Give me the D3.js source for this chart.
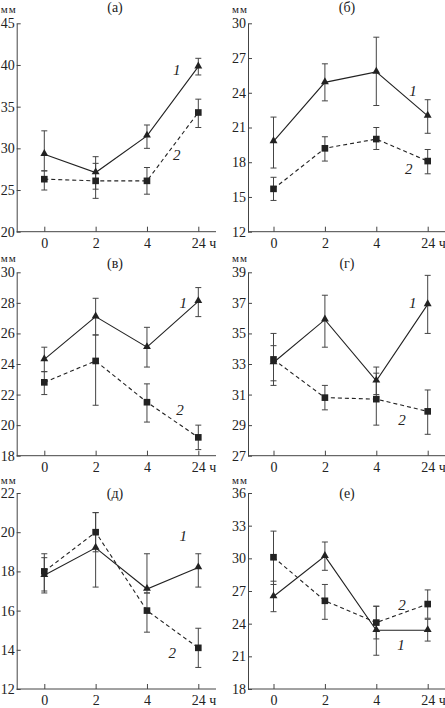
<!DOCTYPE html>
<html><head><meta charset="utf-8">
<script src="https://cdn.jsdelivr.net/npm/d3@7"></script>
<style>
html,body{margin:0;padding:0;background:#fff;}
svg{display:block;}
svg text{font-family:"Liberation Serif","Tinos","Times New Roman","DejaVu Serif","Noto Serif",serif !important;fill:#222;}
</style></head>
<body>
<svg id="chart" width="445" height="708"></svg>
<script>
// ---- data ----
const times = ["0", "2", "4", "24"];
const panelTitles = ["(а)", "(б)", "(в)", "(г)", "(д)", "(е)"];
const unitLabel = "мм";
const timeUnit = "ч";
const seriesNames = ["1", "2"];

const yTicksA = [20, 25, 30, 35, 40, 45];
const yTicksB = [12, 15, 18, 21, 24, 27, 30];
const yTicksV = [18, 20, 22, 24, 26, 28, 30];
const yTicksG = [27, 29, 31, 33, 35, 37, 39];
const yTicksD = [12, 14, 16, 18, 20, 22];
const yTicksE = [18, 21, 24, 27, 30, 33, 36];

// (а)
const a1 = [29.3, 27.1, 31.5, 39.8];
const a1Err = [[27.3, 32.1], [25.1, 29.0], [30.0, 32.8], [38.8, 40.8]];
const a2 = [26.3, 26.1, 26.1, 34.3];
const a2Err = [[25.0, 27.3], [24.0, 28.2], [24.5, 27.7], [32.5, 35.9]];
// (б)
const b1 = [19.8, 24.9, 25.8, 22.0];
const b1Err = [[17.5, 21.9], [23.3, 26.5], [22.9, 28.8], [20.5, 23.4]];
const b2 = [15.7, 19.2, 20.0, 18.1];
const b2Err = [[14.7, 16.7], [18.1, 20.2], [19.1, 21.0], [17.0, 19.1]];
// (в)
const v1 = [24.3, 27.1, 25.1, 28.1];
const v1Err = [[23.5, 25.1], [25.9, 28.3], [23.8, 26.4], [27.1, 29.0]];
const v2 = [22.8, 24.2, 21.5, 19.2];
const v2Err = [[22.0, 23.5], [21.3, 25.9], [20.2, 22.7], [18.4, 20.0]];
// (г)
const g1 = [33.1, 35.9, 31.9, 36.9];
const g1Err = [[31.9, 34.2], [34.1, 37.5], [31.0, 32.8], [35.0, 38.8]];
const g2 = [33.3, 30.8, 30.7, 29.9];
const g2Err = [[31.6, 35.0], [30.0, 31.6], [29.0, 32.4], [28.4, 31.3]];
// (д)
const d1 = [17.8, 19.2, 17.1, 18.2];
const d1Err = [[16.9, 18.7], [17.2, 21.0], [16.9, 18.9], [17.2, 18.9]];
const d2 = [18.0, 20.0, 16.0, 14.1];
const d2Err = [[17.0, 18.9], [19.0, 21.0], [14.9, 16.9], [13.1, 15.1]];
// (е)
const e1 = [26.5, 30.2, 23.4, 23.4];
const e1Err = [[25.1, 27.9], [28.9, 31.5], [21.1, 25.6], [22.4, 24.4]];
const e2 = [30.1, 26.1, 24.1, 25.8];
const e2Err = [[27.6, 32.5], [24.4, 27.6], [22.6, 25.6], [24.5, 27.1]];

// ---- layout (styles / positions only) ----
const cols = [
  {axisX: 16.7, x0: 44.3, x3: 198.3, xEnd: 216, titleX: 115},
  {axisX: 248, x0: 273.5, x3: 427.7, xEnd: 445, titleX: 347}
];
const rows = [
  {top: 23.3, bottom: 231.7, titleY: 7.5, unitY: 9},
  {top: 272.3, bottom: 455.7, titleY: 263.3, unitY: 258},
  {top: 493, bottom: 689, titleY: 493, unitY: 480}
];
const labelPos = [
  [[176.7, 70], [176.7, 155]],
  [[413, 91], [408.7, 169.3]],
  [[183.3, 302.7], [180, 410]],
  [[412.7, 302.7], [402, 420]],
  [[183.3, 536.3], [172.3, 653]],
  [[401, 644.7], [402, 604.7]]
];

const panels = [
  {ticks: yTicksA, s: [[a1, a1Err], [a2, a2Err]]},
  {ticks: yTicksB, s: [[b1, b1Err], [b2, b2Err]]},
  {ticks: yTicksV, s: [[v1, v1Err], [v2, v2Err]]},
  {ticks: yTicksG, s: [[g1, g1Err], [g2, g2Err]]},
  {ticks: yTicksD, s: [[d1, d1Err], [d2, d2Err]]},
  {ticks: yTicksE, s: [[e1, e1Err], [e2, e2Err]]}
];

const svg = d3.select("#chart");
const ink = "#222";
const axisInk = "#444";
const serif = "Liberation Serif, Tinos, Times New Roman, DejaVu Serif, serif";

panels.forEach((p, i) => {
  const col = cols[i % 2], row = rows[Math.floor(i / 2)];
  const x = d3.scalePoint().domain(times).range([col.x0, col.x3]);
  const y = d3.scaleLinear().domain(d3.extent(p.ticks)).range([row.bottom, row.top]);
  const g = svg.append("g").attr("font-family", serif);

  // y axis
  const ya = g.append("g").attr("transform", `translate(${col.axisX},0)`)
    .call(d3.axisLeft(y).tickValues(p.ticks).tickSizeInner(-4).tickSizeOuter(0).tickPadding(2).tickFormat(d3.format("d")));
  ya.attr("font-family", serif);
  ya.select(".domain").attr("stroke", axisInk);
  ya.selectAll(".tick line").attr("stroke", axisInk);
  ya.selectAll("text").attr("font-size", 14).attr("fill", ink);

  // x axis
  g.append("line").attr("x1", col.axisX).attr("x2", col.xEnd)
    .attr("y1", row.bottom).attr("y2", row.bottom).attr("stroke", axisInk);
  const xa = g.append("g").attr("transform", `translate(0,${row.bottom})`)
    .call(d3.axisBottom(x).tickSizeInner(-5).tickSizeOuter(0).tickPadding(6));
  xa.attr("font-family", serif);
  xa.select(".domain").remove();
  xa.selectAll(".tick line").attr("stroke", axisInk);
  xa.selectAll("text").attr("font-size", 14).attr("fill", ink);
  xa.selectAll(".tick").filter(d => d === times[times.length - 1]).select("text")
    .attr("text-anchor", "start").attr("x", -7).text(d => d + " " + timeUnit);

  // unit + title
  g.append("text").attr("x", col.axisX).attr("y", row.unitY).attr("text-anchor", "end")
    .attr("dominant-baseline", "central").attr("font-size", 11).attr("letter-spacing", 1).text(unitLabel);
  g.append("text").attr("x", col.titleX).attr("y", row.titleY).attr("text-anchor", "middle")
    .attr("dominant-baseline", "central").attr("font-size", 14).text(panelTitles[i]);

  const line = d3.line().x((d, j) => x(times[j])).y(d => y(d));

  p.s.forEach(([vals, errs], k) => {
    g.append("path").datum(vals).attr("d", line).attr("fill", "none")
      .attr("stroke", ink).attr("stroke-width", 1.1)
      .attr("stroke-dasharray", k === 1 ? "4,3" : null);
    const eb = g.append("g").attr("stroke", axisInk).attr("stroke-width", 1);
    errs.forEach((e, j) => {
      const cx = x(times[j]);
      eb.append("line").attr("x1", cx).attr("x2", cx).attr("y1", y(e[0])).attr("y2", y(e[1]));
      eb.append("line").attr("x1", cx - 3).attr("x2", cx + 3).attr("y1", y(e[0])).attr("y2", y(e[0]));
      eb.append("line").attr("x1", cx - 3).attr("x2", cx + 3).attr("y1", y(e[1])).attr("y2", y(e[1]));
    });
  });
  p.s.forEach(([vals], k) => {
    const sym = d3.symbol().type(k === 0 ? d3.symbolTriangle : d3.symbolSquare).size(k === 0 ? 27 : 44);
    g.selectAll(null).data(vals).enter().append("path")
      .attr("transform", (d, j) => `translate(${x(times[j])},${y(d) + (k === 0 ? -0.5 : 0)})`)
      .attr("d", sym).attr("fill", ink);
    const lp = labelPos[i][k];
    g.append("text").attr("x", lp[0]).attr("y", lp[1]).attr("text-anchor", "middle")
      .attr("dominant-baseline", "central").attr("font-size", 15).attr("font-style", "italic")
      .text(seriesNames[k]);
  });
});
</script>
</body></html>
